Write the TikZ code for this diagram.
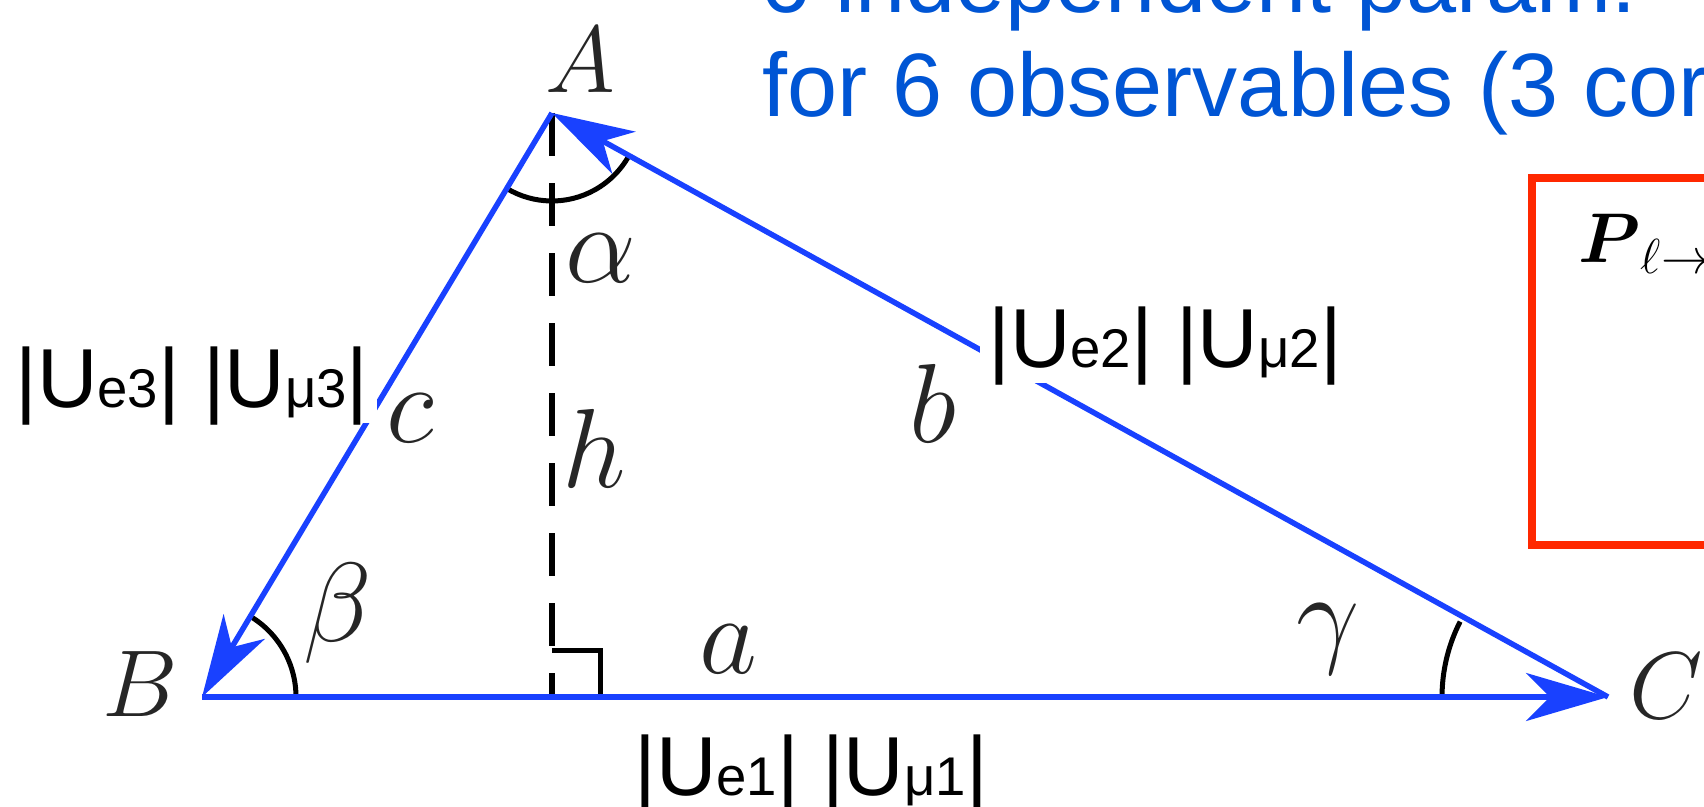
\RequirePackage{fix-cm}
\documentclass[tikz,border=0pt]{standalone}
\usepackage{amsmath}
\usepackage{fontspec}
\usepackage{tikz}
\usetikzlibrary{arrows.meta}
\newfontfamily\arialfont{Liberation Sans}
\definecolor{sideblue}{RGB}{25,65,255}
\definecolor{textblue}{RGB}{0,85,212}
\definecolor{boxred}{RGB}{255,40,0}
\newcommand{\usub}[1]{{\fontsize{15.5}{18}\selectfont #1}}
\tikzset{
  side/.style={-{Stealth[length=0.82cm, width=0.48cm, inset=0.24cm]},
               color=sideblue, line width=0.055cm},
  altitude/.style={black, line width=0.055cm, dash pattern=on 0.43cm off 0.27cm},
  anglearc/.style={black, line width=0.05cm},
  vlabel/.style={inner sep=0pt, anchor=base, text=black!85,
                 font=\fontsize{32}{38}\selectfont},
  vertex/.style={vlabel, font=\fontsize{27}{32}\selectfont},
  mag/.style={fill=white, inner xsep=0.08cm, inner ysep=0.01cm, anchor=base,
              text depth=0.14cm, font=\arialfont\fontsize{23.8}{29}\selectfont},
  note/.style={text=textblue, inner sep=0pt, anchor=base west,
               font=\arialfont\fontsize{25.6}{30}\selectfont}
}

\begin{document}
\begin{tikzpicture}[x=0.01cm, y=0.01cm]
  \useasboundingbox (0,0) rectangle (1704,806);
  \clip (0,0) rectangle (1704,806);

  % vertices of the triangle
  \coordinate (A) at (552,693);
  \coordinate (B) at (202,109);
  \coordinate (C) at (1608,109);
  \coordinate (H) at (552,109);

  % text in the corner
  \node[note] (note1) at (760,793) {6 independent param.};
  \node[note] (note2) at (762,689) {for 6 observables (3 cor};
  \draw[boxred, line width=0.08cm] (1532,628) rectangle (1800,261);
  \node[inner sep=0pt, anchor=base west, font=\fontsize{20}{24}\selectfont]
    (prob) at (1578,543) {$\boldsymbol{P}_{\ell\to\ell'}$};

  % altitude and angles
  \draw[altitude] (A) -- (H);
  \draw[anglearc] (H) ++(0,47) -- ++(48,0) -- ++(0,-47);
  \draw[anglearc] (A) ++(239.06:88) arc[start angle=239.06, end angle=331.05, radius=88];
  \draw[anglearc] (B) ++(0:94) arc[start angle=0, end angle=59.06, radius=94];
  \draw[anglearc] (C) ++(180:166) arc[start angle=180, end angle=153, radius=166];

  % sides
  \draw[side] (A) -- (B);
  \draw[side] (B) -- (C);
  \draw[side] (C) -- (A);

  \node[vertex] (lA) at (580,713) {$A$};
  \node[vertex] (lB) at (140,90) {$B$};
  \node[vertex] (lC) at (1666,88) {$C$};
  \node[vlabel] (la) at (728,133) {$a$};
  \node[vlabel] (lb) at (933,363) {$b$};
  \node[vlabel] (lc) at (410,363) {$c$};
  \node[vlabel] (lh) at (594,318) {$h$};
  \node[vlabel] (lalpha) at (601,523) {$\alpha$};
  \node[vlabel] (lbeta) at (338,165) {$\beta$};
  \node[vlabel] (lgamma) at (1328,154) {$\gamma$};

  \node[mag] (mag3) at (192,398) {|U\usub{e3}| |U\usub{μ3}|};
  \node[mag] (mag2) at (1165,438) {|U\usub{e2}| |U\usub{μ2}|};
  \node[mag] (mag1) at (811,11) {|U\usub{e1}| |U\usub{μ1}|};
\end{tikzpicture}
\end{document}
